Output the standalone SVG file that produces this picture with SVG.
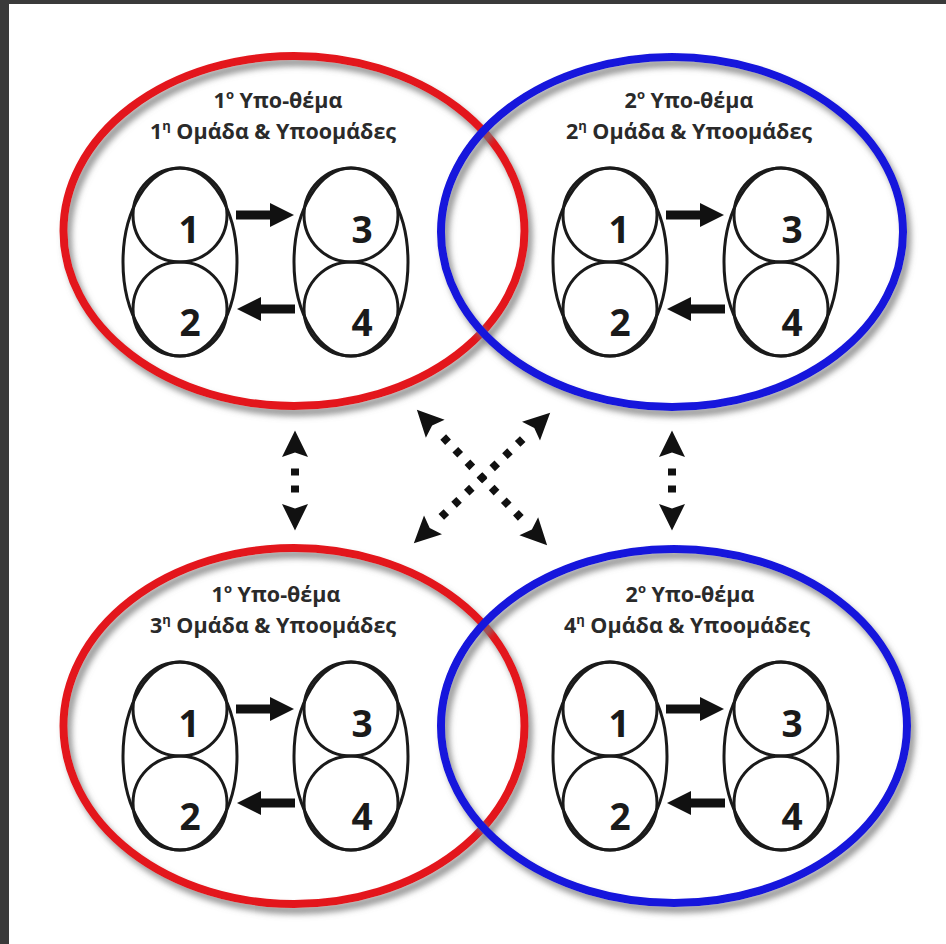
<svg xmlns="http://www.w3.org/2000/svg" width="946" height="944" viewBox="0 0 946 944">
<defs>
<filter id="sh" x="-10%" y="-10%" width="125%" height="125%">
<feDropShadow dx="4" dy="6" stdDeviation="3" flood-color="#777" flood-opacity="0.8"/>
</filter>
<marker id="ah" markerUnits="userSpaceOnUse" markerWidth="30" markerHeight="30" refX="0" refY="0" orient="auto" overflow="visible">
<path d="M0,-12 L24,0 L0,12 Z" fill="#111"/>
</marker>
<marker id="dh" markerUnits="userSpaceOnUse" markerWidth="40" markerHeight="40" refX="0" refY="0" orient="auto-start-reverse" overflow="visible">
<path d="M11.5,-13 L38,0 L11.5,13 L16,0 Z" fill="#111"/>
</marker>
<g id="pair">
<ellipse cx="0" cy="0" rx="57" ry="94"/>
<circle cx="0" cy="-47" r="47"/>
<circle cx="0" cy="47" r="47"/>
</g>
</defs>
<style>
.big{fill:none;stroke-width:8;filter:url(#sh)}
.red{stroke:#e3151c}
.blue{stroke:#1313dc}
.nd{fill:none;stroke:#1a1a1a;stroke-width:3}
.num{font-family:"Open Sans","Liberation Sans",sans-serif;font-weight:700;font-size:37px;fill:#1a1a1a;text-anchor:middle}
.ttl{font-family:"Open Sans","Liberation Sans",sans-serif;font-weight:700;font-size:21.5px;fill:#2a2a2a;text-anchor:middle}
.sup{font-size:13px}
.arr{stroke:#111;stroke-width:9;marker-end:url(#ah)}
.dot{stroke:#111;stroke-width:8;fill:none;marker-start:url(#dh);marker-end:url(#dh)}
</style>
<rect x="0" y="0" width="946" height="944" fill="#3a3a3a"/>
<rect x="9" y="4" width="937" height="940" fill="#ffffff"/>

<g id="theme1-group1">
<ellipse class="big red" cx="294" cy="231" rx="230.5" ry="175"/>
<text class="ttl" x="278" y="108">1<tspan class="sup" dy="-9">ο</tspan><tspan dy="9"> Υπο-θέμα</tspan></text>
<text class="ttl" x="273" y="139">1<tspan class="sup" dy="-9">η</tspan><tspan dy="9"> Ομάδα &amp; Υποομάδες</tspan></text>
<use href="#pair" class="nd" x="180" y="262"/>
<use href="#pair" class="nd" x="351" y="262"/>
<text class="num" x="189" y="243">1</text>
<text class="num" x="190" y="336">2</text>
<text class="num" x="362" y="243">3</text>
<text class="num" x="362" y="336">4</text>
<line class="arr" x1="236" y1="215" x2="270" y2="215"/>
<line class="arr" x1="295" y1="309" x2="261" y2="309"/>
</g>

<g id="theme2-group2">
<ellipse class="big blue" cx="672" cy="232" rx="231" ry="175"/>
<text class="ttl" x="689" y="108">2<tspan class="sup" dy="-9">ο</tspan><tspan dy="9"> Υπο-θέμα</tspan></text>
<text class="ttl" x="689" y="139">2<tspan class="sup" dy="-9">η</tspan><tspan dy="9"> Ομάδα &amp; Υποομάδες</tspan></text>
<use href="#pair" class="nd" x="610" y="262"/>
<use href="#pair" class="nd" x="781" y="262"/>
<text class="num" x="619" y="243">1</text>
<text class="num" x="620" y="336">2</text>
<text class="num" x="792" y="243">3</text>
<text class="num" x="792" y="336">4</text>
<line class="arr" x1="666" y1="215" x2="700" y2="215"/>
<line class="arr" x1="725" y1="309" x2="691" y2="309"/>
</g>

<g id="theme1-group3">
<ellipse class="big red" cx="294" cy="726" rx="230.5" ry="178"/>
<text class="ttl" x="276" y="602">1<tspan class="sup" dy="-9">ο</tspan><tspan dy="9"> Υπο-θέμα</tspan></text>
<text class="ttl" x="273" y="633">3<tspan class="sup" dy="-9">η</tspan><tspan dy="9"> Ομάδα &amp; Υποομάδες</tspan></text>
<use href="#pair" class="nd" x="180" y="756"/>
<use href="#pair" class="nd" x="351" y="756"/>
<text class="num" x="189" y="737">1</text>
<text class="num" x="190" y="830">2</text>
<text class="num" x="362" y="737">3</text>
<text class="num" x="362" y="830">4</text>
<line class="arr" x1="236" y1="709" x2="270" y2="709"/>
<line class="arr" x1="295" y1="803" x2="261" y2="803"/>
</g>

<g id="theme2-group4">
<ellipse class="big blue" cx="674" cy="726" rx="233" ry="177"/>
<text class="ttl" x="690" y="602">2<tspan class="sup" dy="-9">ο</tspan><tspan dy="9"> Υπο-θέμα</tspan></text>
<text class="ttl" x="687" y="633">4<tspan class="sup" dy="-9">η</tspan><tspan dy="9"> Ομάδα &amp; Υποομάδες</tspan></text>
<use href="#pair" class="nd" x="610" y="756"/>
<use href="#pair" class="nd" x="781" y="756"/>
<text class="num" x="619" y="737">1</text>
<text class="num" x="620" y="830">2</text>
<text class="num" x="792" y="737">3</text>
<text class="num" x="792" y="830">4</text>
<line class="arr" x1="666" y1="709" x2="700" y2="709"/>
<line class="arr" x1="725" y1="803" x2="691" y2="803"/>
</g>

<g id="connectors">
<line class="dot" x1="295" y1="468.5" x2="295" y2="492.5" stroke-dasharray="7 10"/>
<line class="dot" x1="672" y1="468.5" x2="672" y2="492.5" stroke-dasharray="7 10"/>
<line class="dot" x1="443.2" y1="437.1" x2="520.8" y2="517.9" stroke-dasharray="7 10.5"/>
<line class="dot" x1="522.7" y1="439.1" x2="441.3" y2="516.9" stroke-dasharray="7 10.6"/>
</g>
</svg>
